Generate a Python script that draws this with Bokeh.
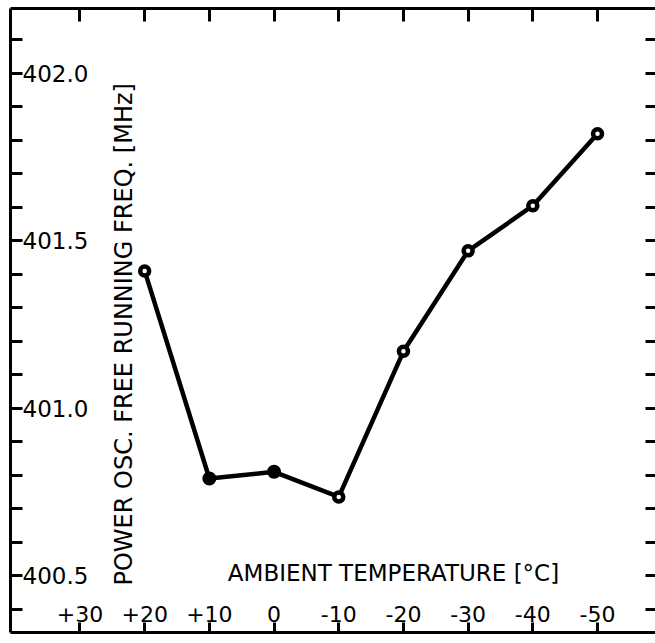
import math
from bokeh.plotting import figure
from bokeh.models import (Range1d, LinearAxis, FixedTicker, CustomJSTickFormatter,
                          ColumnDataSource, Label, CDSView, IndexFilter)
from bokeh.core.properties import value
from bokeh.embed import file_html
from bokeh.resources import INLINE

# ---- data ----
temps = [20, 10, 0, -10, -20, -30, -40, -50]
freqs = [401.41, 400.79, 400.81, 400.735, 401.17, 401.47, 401.605, 401.82]
open_idx = [0, 3, 4, 5, 6, 7]
filled_idx = [1, 2]

x_ticks = [30, 20, 10, 0, -10, -20, -30, -40, -50]
x_tick_labels = ["+30", "+20", "+10", "0", "-10", "-20", "-30", "-40", "-50"]
y_ticks = [400.4, 400.5, 400.6, 400.7, 400.8, 400.9, 401.0, 401.1, 401.2, 401.3,
           401.4, 401.5, 401.6, 401.7, 401.8, 401.9, 402.0, 402.1]
y_major = [400.5, 401.0, 401.5, 402.0]
y_major_labels = ["400.5", "401.0", "401.5", "402.0"]

x_title = "AMBIENT TEMPERATURE [°C]"
y_title = "POWER OSC. FREE RUNNING FREQ. [MHz]"

# ---- view ----
X_LO, X_HI = 40.74, -58.96
Y_LO, Y_HI = 400.33, 402.194
FONT = "DejaVu Sans"

p = figure(width=655, height=634, x_range=Range1d(X_LO, X_HI), y_range=Range1d(Y_LO, Y_HI),
           x_axis_location=None, y_axis_location=None, toolbar_location=None,
           output_backend="svg", min_border=0, min_border_left=10, min_border_top=8,
           min_border_bottom=2)
p.grid.visible = False
p.outline_line_color = None
p.background_fill_color = "white"
p.border_fill_color = "white"

blank = CustomJSTickFormatter(code="return ''")

def mk_axis(ticks, tick_in, line=True):
    ax = LinearAxis(ticker=FixedTicker(ticks=ticks), formatter=blank,
                    major_tick_in=tick_in, major_tick_out=0,
                    minor_tick_in=0, minor_tick_out=0,
                    major_tick_line_width=3, major_tick_line_color="black",
                    axis_line_width=3, axis_line_color="black" if line else None,
                    major_label_standoff=0, major_label_text_font_size="1px")
    return ax

p.add_layout(mk_axis(y_ticks, 12), "left")
p.add_layout(mk_axis(y_ticks, 10, line=False), "right")
p.add_layout(mk_axis(x_ticks, 10), "below")
p.add_layout(mk_axis(x_ticks, 13), "above")

# tick labels drawn inside the frame
p.text(x=[X_LO] * len(y_major), y=y_major, text=y_major_labels, x_offset=12,
       text_align="left", text_baseline="middle", text_font=value(FONT),
       text_font_size="23px", text_color="black")
p.text(x=x_ticks, y=[Y_LO] * len(x_ticks), text=x_tick_labels, y_offset=-19,
       text_align="center", text_baseline="middle", text_font=value(FONT),
       text_font_size="22px", text_color="black")

# data
src = ColumnDataSource(dict(t=temps, f=freqs))
p.line("t", "f", source=src, line_width=4.5, line_color="black")
p.scatter("t", "f", source=src, view=CDSView(filter=IndexFilter(open_idx)),
          size=9, fill_color="white", line_color="black", line_width=4.5)
p.scatter("t", "f", source=src, view=CDSView(filter=IndexFilter(filled_idx)),
          size=12, fill_color="black", line_color="black", line_width=2)

# titles
p.add_layout(Label(x=383, y=60, x_units="screen", y_units="screen", text=x_title,
                   text_align="center", text_baseline="middle", text_font=FONT,
                   text_font_size="23px", text_color="black"))
p.add_layout(Label(x=113, y=47, x_units="screen", y_units="screen", text=y_title,
                   angle=math.pi / 2, text_align="left", text_baseline="middle",
                   text_font=FONT, text_font_size="24px", text_color="black"))

open("out.html", "w").write(file_html(p, INLINE))
